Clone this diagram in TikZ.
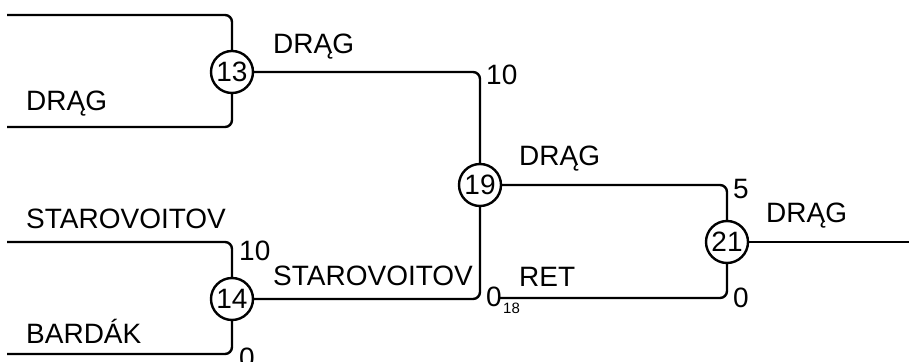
\documentclass[tikz,border=0pt]{standalone}
\usepackage{fontspec}
\setmainfont{Liberation Sans}
\usetikzlibrary{positioning}

\begin{document}
\begin{tikzpicture}[
  x=0.5pt, y=-0.5pt,
  line width=1.2pt,
  match/.style={draw, circle, minimum size=21pt, inner sep=0pt, fill=white, font=\fontsize{14}{16}\selectfont},
  lbl/.style={anchor=base west, inner sep=0pt, font=\fontsize{14}{16}\selectfont},
  seed/.style={anchor=base west, inner sep=0pt, font=\fontsize{7.5}{9}\selectfont},
  wire/.style={rounded corners=3.5pt},
]
\useasboundingbox (0,0) rectangle (909,362);
% matches
\node[match] (m13) at (232,72) {13};
\node[match] (m14) at (232,299) {14};
\node[match] (m19) at (480,185) {19};
\node[match] (m21) at (727,242) {21};
% free ends
\coordinate (in13a) at (7,15);
\coordinate (in13b) at (7,127);
\coordinate (in14a) at (7,242);
\coordinate (in14b) at (7,354);
\coordinate (in21b) at (500,298);
\coordinate (out21) at (909,242);
% wires
\draw[wire] (in13a) -| (m13);
\draw[wire] (in13b) -| (m13);
\draw[wire] (in14a) -| (m14);
\draw[wire] (in14b) -| (m14);
\draw[wire] (m13) -| (m19);
\draw[wire] (m14) -| (m19);
\draw[wire] (m19) -| (m21);
\draw[wire] (in21b) -| (m21);
\draw (m21) -- (out21);
% names and scores
\node[lbl] (n13b) at (25,111) {DRĄG};
\node[lbl] (n14a) at (25,229) {STAROVOITOV};
\node[lbl] (s14a) at (238,261) {10};
\node[lbl] (n14b) at (25,344) {BARDÁK};
\node[lbl] (s14b) at (238,368) {0};
\node[lbl] (n19a) at (272,54) {DRĄG};
\node[lbl] (s19a) at (485,85) {10};
\node[lbl] (n19b) at (272,286) {STAROVOITOV};
\node[lbl] (s19b) at (485,307) {0};
\node[seed] (d21b) at (502,314) {18};
\node[lbl] (n21a) at (518,166) {DRĄG};
\node[lbl] (s21a) at (732,199) {5};
\node[lbl] (n21b) at (518,287) {RET};
\node[lbl] (s21b) at (732,308) {0};
\node[lbl] (nwin) at (765,223) {DRĄG};
\end{tikzpicture}
\end{document}
